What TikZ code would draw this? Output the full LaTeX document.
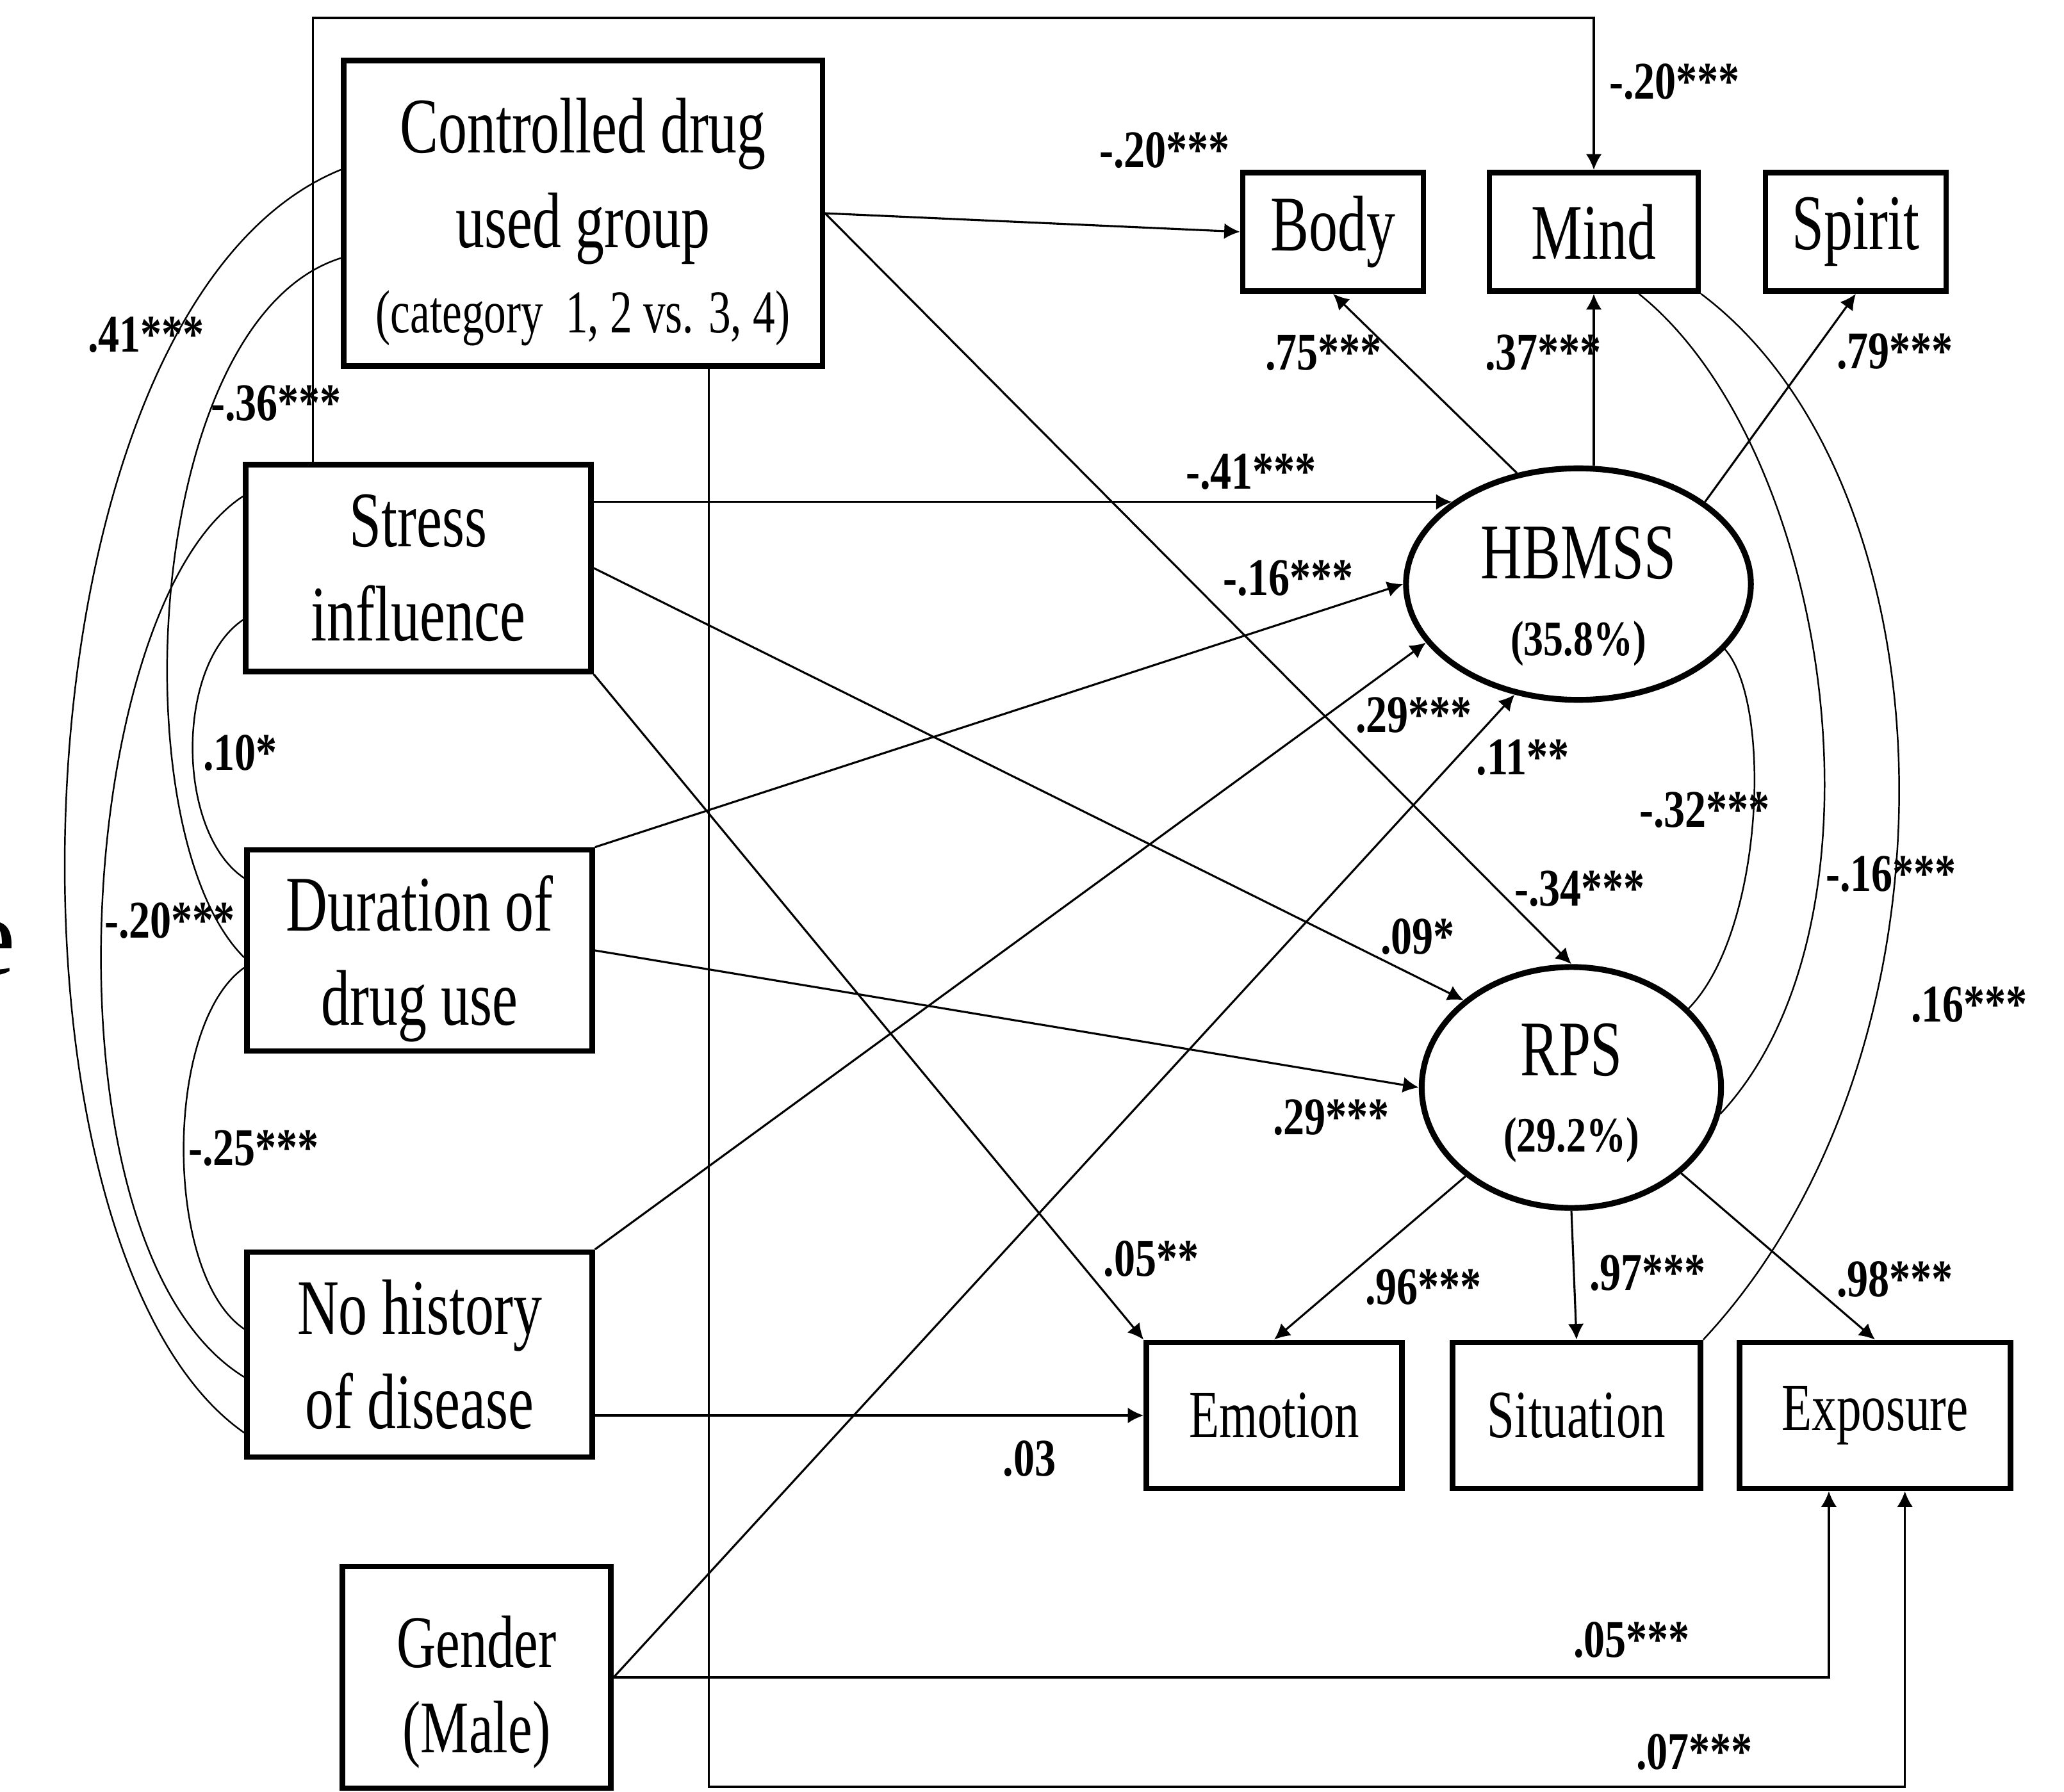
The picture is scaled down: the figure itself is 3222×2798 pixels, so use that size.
\documentclass[tikz,border=0pt]{standalone}
\usepackage{fontspec}
\setmainfont{Liberation Serif}
\newfontfamily\boxfont{Liberation Serif}[FakeStretch=0.73]
\newfontfamily\coeffont{Liberation Serif}[FakeStretch=0.8]
\newcommand\pctfont{\coeffont\bfseries\fontsize{22}{26}\selectfont}
\usetikzlibrary{shapes.geometric,arrows.meta,calc}

\begin{document}
\begin{tikzpicture}[
        x=0.01cm, y=-0.01cm,
        obs/.style={shape=rectangle, draw, line width=2.4pt, inner sep=0pt, align=center, font=\boxfont\fontsize{35}{42}\selectfont},
        ind/.style={obs, font=\boxfont\fontsize{30}{36}\selectfont, minimum height=2.28cm},
        lat/.style={shape=ellipse, draw, line width=2.6pt, inner sep=0pt, align=center, font=\boxfont\fontsize{35}{42}\selectfont},
        coef/.style={inner sep=0pt, font=\coeffont\bfseries\fontsize{23.5}{28}\selectfont},
        arr/.style={line width=0.9pt, -{Latex[length=7pt,width=7pt]}},
        cov/.style={line width=0.7pt}
    ]

    \useasboundingbox (0,0) rectangle (3222,2798);
    \clip (0,0) rectangle (3222,2798);

    % observed predictors
    \node[obs, minimum width=7.47cm, minimum height=4.77cm] (ctrl) at (910,333) {\rule{0pt}{32pt}Controlled drug\\used group\\[-4pt]{\fontsize{27}{32}\selectfont (category~ 1, 2 vs. 3, 4)}};
    \node[obs, minimum width=5.39cm, minimum height=3.23cm] (stress) at (653,887) {Stress\\influence};
    \node[obs, minimum width=5.39cm, minimum height=3.14cm] (dur) at (655,1484) {\rule{0pt}{32pt}Duration of\\drug use};
    \node[obs, minimum width=5.39cm, minimum height=3.2cm] (nohist) at (655,2115) {No history\\of disease};
    \node[obs, minimum width=4.19cm, minimum height=3.46cm, font=\boxfont\fontsize{33}{38}\selectfont] (gender) at (744,2619) {\rule{0pt}{36pt}Gender\\(Male)};
    \node[anchor=base east, inner sep=0pt, font=\fontsize{50}{60}\selectfont] (cut) at (25,1521) {e};

    % latent variables and indicators
    \node[lat, minimum width=5.38cm, minimum height=3.44cm] (hbmss) at (2464,912) {\rule{0pt}{34pt}HBMSS\\[-8pt]{\pctfont (35.8\%)}};
    \node[lat, minimum width=4.67cm, minimum height=3.76cm] (rps) at (2453,1698) {\rule{0pt}{28pt}RPS\\[-8pt]{\pctfont (29.2\%)}};
    \node[obs, minimum width=2.82cm, minimum height=1.85cm] (body) at (2081,362) {Body};
    \node[obs, minimum width=3.26cm, minimum height=1.85cm] (mind) at (2488,362) {Mind};
    \node[obs, minimum width=2.82cm, minimum height=1.85cm] (spirit) at (2897,362) {Spirit};
    \node[ind, minimum width=3.99cm] (emo) at (1989,2210) {Emotion};
    \node[ind, minimum width=3.87cm] (sit) at (2461,2210) {Situation};
    \node[ind, minimum width=4.23cm] (expo) at (2927,2210) {Exposure};

    \coordinate (top) at (0,28);
    \coordinate (base) at (0,2790);
    \coordinate (st) at ($(stress.north west)!0.2!(stress.north east)$);
    \coordinate (cb) at ($(ctrl.south west)!0.76!(ctrl.south east)$);
    \coordinate (ex1) at ($(expo.south west)!0.333!(expo.south east)$);
    \coordinate (ex2) at ($(expo.south west)!0.608!(expo.south east)$);
    \coordinate (mb) at ($(mind.south west)!0.71!(mind.south east)$);

    % structural paths
    \draw[arr] (st) -- (st |- top) -| (mind.north);
    \draw[arr] (ctrl.east) -- (body.west);
    \draw[arr] (ctrl.east) -- (rps.north);
    \draw[arr] (cb) -- (cb |- base) -| (ex2);
    \draw[arr] (stress.east |- hbmss.147) -- (hbmss.147);
    \draw[arr] (stress.east) -- (rps.141);
    \draw[arr] (stress.south east) -- (emo.north west);
    \draw[arr] (dur.north east) -- (hbmss.west);
    \draw[arr] (dur.east) -- (rps.west);
    \draw[arr] (nohist.north east) -- (hbmss.201);
    \draw[arr] (nohist.east |- emo.west) -- (emo.west);
    \draw[arr] (gender.east) -- (hbmss.240);
    \draw[arr] (gender.east) -| (ex1);

    % loadings
    \draw[arr] (hbmss.119) -- (body.south);
    \draw[arr] (mind.south |- hbmss.north) -- (mind.south);
    \draw[arr] (hbmss.33) -- (spirit.south);
    \draw[arr] (rps.220) -- (emo.north);
    \draw[arr] (rps.south) -- (sit.north);
    \draw[arr] (rps.322) -- (expo.north);

    % correlations
    \draw[cov] ($(ctrl.west)+(0,-68)$) .. controls +(-528,215) and +(-411,-287) .. ($(nohist.west)+(0,122)$);
    \draw[cov] ($(ctrl.west)+(0,70)$) .. controls +(-308,97) and +(-196,-195) .. ($(dur.west)+(0,11)$);
    \draw[cov] ($(stress.west)+(0,-112)$) .. controls +(-266,175) and +(-326,-200) .. ($(nohist.west)+(0,35)$);
    \draw[cov] ($(stress.west)+(0,81)$) .. controls +(-106,72) and +(-106,-71) .. ($(dur.west)+(0,-113)$);
    \draw[cov] ($(dur.west)+(0,27)$) .. controls +(-126,89) and +(-126,-85) .. ($(nohist.west)+(0,-40)$);
    \draw[cov] (hbmss.336) .. controls +(75,85) and +(117,-119) .. (rps.34);
    \draw[cov] (mb) .. controls +(300,240) and +(280,-300) .. (rps.350);
    \draw[cov] (mind.south east) .. controls +(400,300) and +(420,-450) .. (sit.north east);

    % coefficients
    \node[coef] (k1) at (228,523) {.41***};
    \node[coef] (k2) at (431,630) {-.36***};
    \node[coef] (k3) at (375,1176) {.10*};
    \node[coef] (k4) at (265,1438) {-.20***};
    \node[coef] (k5) at (396,1793) {-.25***};
    \node[coef] (k6) at (2614,128) {-.20***};
    \node[coef] (k7) at (1818,235) {-.20***};
    \node[coef] (k8) at (2066,551) {.75***};
    \node[coef] (k9) at (2409,551) {.37***};
    \node[coef] (k10) at (2958,549) {.79***};
    \node[coef] (k11) at (1953,737) {-.41***};
    \node[coef] (k12) at (2011,903) {-.16***};
    \node[coef] (k13) at (2207,1117) {.29***};
    \node[coef] (k14) at (2377,1183) {.11**};
    \node[coef] (k15) at (2661,1265) {-.32***};
    \node[coef] (k16) at (2466,1388) {-.34***};
    \node[coef] (k17) at (2213,1463) {.09*};
    \node[coef] (k18) at (2952,1365) {-.16***};
    \node[coef] (k19) at (3074,1569) {.16***};
    \node[coef] (k20) at (2078,1745) {.29***};
    \node[coef] (k21) at (1797,1966) {.05**};
    \node[coef] (k22) at (2222,2010) {.96***};
    \node[coef] (k23) at (2572,1988) {.97***};
    \node[coef] (k24) at (2958,1998) {.98***};
    \node[coef] (k25) at (1607,2278) {.03};
    \node[coef] (k26) at (2547,2561) {.05***};
    \node[coef] (k27) at (2645,2736) {.07***};

\end{tikzpicture}
\end{document}
